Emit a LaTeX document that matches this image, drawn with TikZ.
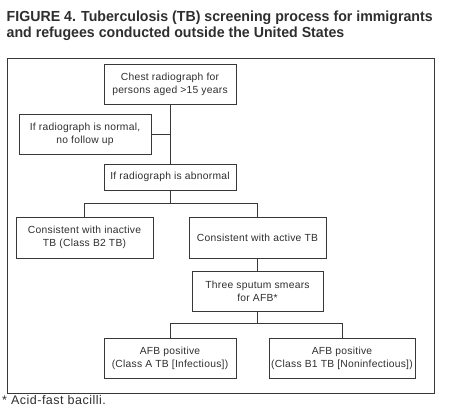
\documentclass[tikz,border=0pt]{standalone}
\usepackage{fontspec}
\setmainfont{Liberation Sans}
\newfontfamily\titlefont{Liberation Sans}[FakeStretch=0.97]
\newfontfamily\bodyfont{Liberation Sans}[LetterSpace=2.5]
\newfontfamily\notefont{Liberation Sans}[LetterSpace=4]
\begin{document}
\begin{tikzpicture}[x=1pt,y=-1pt,
  every node/.style={text=black!82},
  box/.style={draw=black!78, line width=0.8pt, rectangle, align=center,
    inner sep=0pt, font=\bodyfont\fontsize{10.3}{12.7}\selectfont},
  link/.style={draw=black!78, line width=0.8pt}]
\useasboundingbox (0,0) rectangle (449,419);
% title
\node[anchor=north west, align=left, inner sep=0pt,
  font=\titlefont\bfseries\fontsize{14.6}{16.7}\selectfont] (title) at (6.5,10.5)
  {FIGURE 4. Tuberculosis (TB) screening process for immigrants\\and refugees conducted outside the United States};
% frame
\node[draw=black!78, line width=0.8pt, minimum width=427pt, minimum height=335pt, inner sep=0pt] (frame) at (220.5,225.5) {};
% boxes
\node[box, minimum width=132pt, minimum height=40pt] (b1) at (170,84) {Chest radiograph for\\persons aged >15 years};
\node[box, minimum width=132pt, minimum height=40pt] (b2) at (85,134) {If radiograph is normal,\\no follow up};
\node[box, minimum width=132pt, minimum height=26pt] (b3) at (170,177) {If radiograph is abnormal};
\node[box, minimum width=137pt, minimum height=41pt] (b4) at (84.5,237.5) {Consistent with inactive\\TB (Class B2 TB)};
\node[box, minimum width=137pt, minimum height=41pt] (b5) at (257.5,237.5) {Consistent with active TB};
\node[box, minimum width=131pt, minimum height=40pt] (b6) at (257.5,291) {Three sputum smears\\for AFB*};
\node[box, minimum width=132pt, minimum height=40pt] (b7) at (170,358) {AFB positive\\(Class A TB [Infectious])};
\node[box, minimum width=146pt, minimum height=40pt] (b8) at (342,358) {AFB positive\\(Class B1 TB [Noninfectious])};
% footnote
\node[anchor=west, inner sep=0pt, font=\notefont\fontsize{12.5}{15}\selectfont] (fn) at (2,400) {* Acid-fast bacilli.};
% connectors
\draw[link] (b1.south) -- (b3.north);
\draw[link] (b2.east) -- (b2.east -| b1.south);
\draw[link] (b3.south) -- ++(0,13) -| (b4.north);
\draw[link] (b3.south) -- ++(0,13) -| (b5.north);
\draw[link] (b5.south) -- (b6.north);
\draw[link] (b6.south) -- ++(0,12) -| (b7.north);
\draw[link] (b6.south) -- ++(0,12) -| (b8.north);
\end{tikzpicture}
\end{document}
